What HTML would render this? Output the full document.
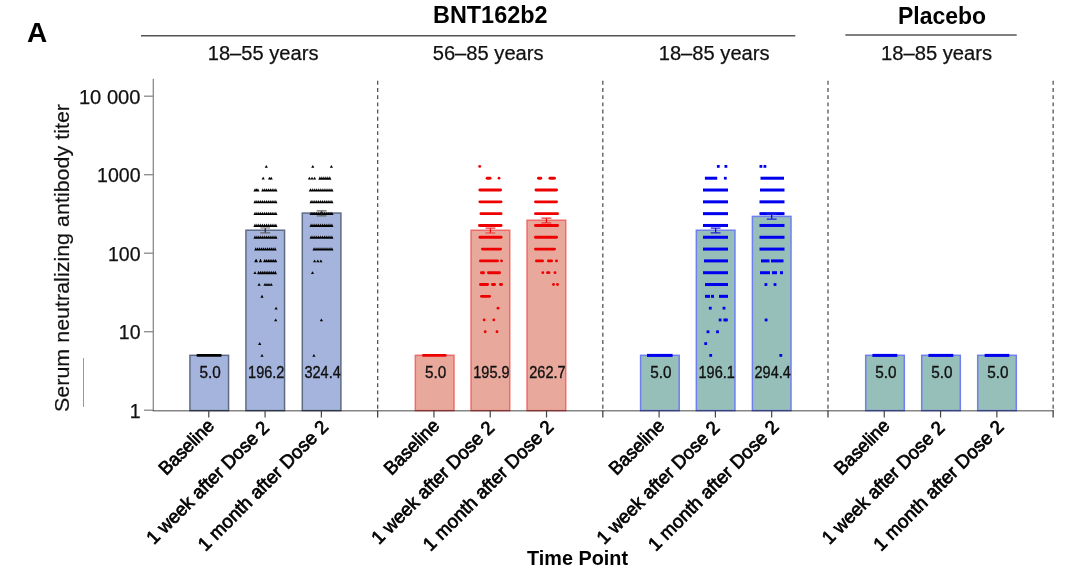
<!DOCTYPE html><html><head><meta charset="utf-8"><style>html,body{margin:0;padding:0;background:#fff;}svg{display:block;}text{font-family:"Liberation Sans",Arial,sans-serif;}</style></head><body>
<svg width="1080" height="572" viewBox="0 0 1080 572">
<rect width="1080" height="572" fill="#fff"/>
<text x="27" y="42" font-size="28" font-weight="bold" fill="#000">A</text>
<text x="433" y="23.3" font-size="23.5" font-weight="bold" fill="#000" textLength="114.5" lengthAdjust="spacingAndGlyphs">BNT162b2</text>
<text x="898" y="24.4" font-size="23.5" font-weight="bold" fill="#000" textLength="88" lengthAdjust="spacingAndGlyphs">Placebo</text>
<line x1="141" y1="35.7" x2="795.3" y2="35.7" stroke="#555" stroke-width="1.5"/>
<line x1="845.3" y1="35" x2="1016.7" y2="35" stroke="#555" stroke-width="1.5"/>
<text x="207.75" y="60" font-size="20" fill="#111" stroke="#111" stroke-width="0.25" textLength="110.7" lengthAdjust="spacingAndGlyphs">18–55 years</text>
<text x="432.70" y="60" font-size="20" fill="#111" stroke="#111" stroke-width="0.25" textLength="110.9" lengthAdjust="spacingAndGlyphs">56–85 years</text>
<text x="658.70" y="60" font-size="20" fill="#111" stroke="#111" stroke-width="0.25" textLength="110.9" lengthAdjust="spacingAndGlyphs">18–85 years</text>
<text x="881.00" y="60" font-size="20" fill="#111" stroke="#111" stroke-width="0.25" textLength="111.1" lengthAdjust="spacingAndGlyphs">18–85 years</text>
<line x1="153.3" y1="78.8" x2="153.3" y2="410.8" stroke="#8a8a8a" stroke-width="1.3"/>
<line x1="144" y1="96.20" x2="153.3" y2="96.20" stroke="#8a8a8a" stroke-width="1.3"/>
<text x="140.5" y="103.90" font-size="19.5" fill="#111" stroke="#111" stroke-width="0.25" text-anchor="end" textLength="61.6" lengthAdjust="spacingAndGlyphs">10 000</text>
<line x1="144" y1="174.70" x2="153.3" y2="174.70" stroke="#8a8a8a" stroke-width="1.3"/>
<text x="140.5" y="182.40" font-size="19.5" fill="#111" stroke="#111" stroke-width="0.25" text-anchor="end">1000</text>
<line x1="144" y1="253.20" x2="153.3" y2="253.20" stroke="#8a8a8a" stroke-width="1.3"/>
<text x="140.5" y="260.90" font-size="19.5" fill="#111" stroke="#111" stroke-width="0.25" text-anchor="end">100</text>
<line x1="144" y1="331.70" x2="153.3" y2="331.70" stroke="#8a8a8a" stroke-width="1.3"/>
<text x="140.5" y="339.40" font-size="19.5" fill="#111" stroke="#111" stroke-width="0.25" text-anchor="end">10</text>
<line x1="144" y1="410.20" x2="153.3" y2="410.20" stroke="#8a8a8a" stroke-width="1.3"/>
<text x="140.5" y="417.90" font-size="19.5" fill="#111" stroke="#111" stroke-width="0.25" text-anchor="end">1</text>
<text transform="translate(68.5,258) rotate(-90)" font-size="20.5" fill="#111" stroke="#111" stroke-width="0.2" text-anchor="middle" textLength="308" lengthAdjust="spacingAndGlyphs">Serum neutralizing antibody titer</text>
<line x1="83.5" y1="358" x2="83.5" y2="407" stroke="#999" stroke-width="1"/>
<line x1="377.65999999999997" y1="80.8" x2="377.65999999999997" y2="410.2" stroke="#555" stroke-width="1.3" stroke-dasharray="3.9 3.3"/>
<line x1="602.8199999999999" y1="80.8" x2="602.8199999999999" y2="410.2" stroke="#555" stroke-width="1.3" stroke-dasharray="3.9 3.3"/>
<line x1="827.98" y1="80.8" x2="827.98" y2="410.2" stroke="#555" stroke-width="1.3" stroke-dasharray="3.9 3.3"/>
<line x1="1053.1399999999999" y1="80.8" x2="1053.1399999999999" y2="410.2" stroke="#555" stroke-width="1.3" stroke-dasharray="3.9 3.3"/>
<rect x="189.95" y="355.33" width="38.6" height="55.27" fill="#a5b4dc" stroke="#5d6a88" stroke-width="1.5"/>
<rect x="196.50" y="354.10" width="25.20" height="2.6" rx="1" fill="#000"/>
<text x="210.25" y="378.2" font-size="16.2" fill="#111" stroke="#111" stroke-width="0.35" text-anchor="middle" textLength="21.3" lengthAdjust="spacingAndGlyphs">5.0</text>
<rect x="245.95" y="230.22" width="38.6" height="180.38" fill="#a5b4dc" stroke="#5d6a88" stroke-width="1.5"/>
<path d="M264.70 167.70h3.2l-1.6-2.8z" fill="#000"/>
<path d="M261.60 179.51h3.2l-1.6-2.8z" fill="#000"/>
<path d="M267.90 179.51h3.2l-1.6-2.8z" fill="#000"/>
<path d="M269.60 179.51h3.2l-1.6-2.8z" fill="#000"/>
<path d="M253.40 191.47h3.2l-1.6-3.3zM254.85 191.47h3.2l-1.6-3.3zM256.30 191.47h3.2l-1.6-3.3z" fill="#000"/>
<path d="M261.20 191.47h3.2l-1.6-3.3zM263.07 191.47h3.2l-1.6-3.3zM264.94 191.47h3.2l-1.6-3.3zM266.81 191.47h3.2l-1.6-3.3zM268.69 191.47h3.2l-1.6-3.3zM270.56 191.47h3.2l-1.6-3.3zM272.43 191.47h3.2l-1.6-3.3zM274.30 191.47h3.2l-1.6-3.3z" fill="#000"/>
<path d="M253.40 203.29h3.2l-1.6-3.3zM255.30 203.29h3.2l-1.6-3.3zM257.20 203.29h3.2l-1.6-3.3zM259.10 203.29h3.2l-1.6-3.3zM261.00 203.29h3.2l-1.6-3.3zM262.90 203.29h3.2l-1.6-3.3zM264.80 203.29h3.2l-1.6-3.3zM266.70 203.29h3.2l-1.6-3.3zM268.60 203.29h3.2l-1.6-3.3zM270.50 203.29h3.2l-1.6-3.3zM272.40 203.29h3.2l-1.6-3.3zM274.30 203.29h3.2l-1.6-3.3z" fill="#000"/>
<path d="M253.40 215.10h3.2l-1.6-3.3zM255.30 215.10h3.2l-1.6-3.3zM257.20 215.10h3.2l-1.6-3.3zM259.10 215.10h3.2l-1.6-3.3zM261.00 215.10h3.2l-1.6-3.3zM262.90 215.10h3.2l-1.6-3.3zM264.80 215.10h3.2l-1.6-3.3zM266.70 215.10h3.2l-1.6-3.3zM268.60 215.10h3.2l-1.6-3.3zM270.50 215.10h3.2l-1.6-3.3zM272.40 215.10h3.2l-1.6-3.3zM274.30 215.10h3.2l-1.6-3.3z" fill="#000"/>
<path d="M253.40 226.91h3.2l-1.6-3.3zM255.30 226.91h3.2l-1.6-3.3zM257.20 226.91h3.2l-1.6-3.3zM259.10 226.91h3.2l-1.6-3.3zM261.00 226.91h3.2l-1.6-3.3zM262.90 226.91h3.2l-1.6-3.3zM264.80 226.91h3.2l-1.6-3.3zM266.70 226.91h3.2l-1.6-3.3zM268.60 226.91h3.2l-1.6-3.3zM270.50 226.91h3.2l-1.6-3.3zM272.40 226.91h3.2l-1.6-3.3zM274.30 226.91h3.2l-1.6-3.3z" fill="#000"/>
<path d="M253.40 238.72h3.2l-1.6-3.3zM255.30 238.72h3.2l-1.6-3.3zM257.20 238.72h3.2l-1.6-3.3zM259.10 238.72h3.2l-1.6-3.3zM261.00 238.72h3.2l-1.6-3.3zM262.90 238.72h3.2l-1.6-3.3zM264.80 238.72h3.2l-1.6-3.3zM266.70 238.72h3.2l-1.6-3.3zM268.60 238.72h3.2l-1.6-3.3zM270.50 238.72h3.2l-1.6-3.3zM272.40 238.72h3.2l-1.6-3.3zM274.30 238.72h3.2l-1.6-3.3z" fill="#000"/>
<path d="M254.20 250.54h3.2l-1.6-3.3zM256.13 250.54h3.2l-1.6-3.3zM258.06 250.54h3.2l-1.6-3.3zM259.99 250.54h3.2l-1.6-3.3zM261.92 250.54h3.2l-1.6-3.3zM263.85 250.54h3.2l-1.6-3.3zM265.78 250.54h3.2l-1.6-3.3zM267.71 250.54h3.2l-1.6-3.3zM269.64 250.54h3.2l-1.6-3.3zM271.57 250.54h3.2l-1.6-3.3zM273.50 250.54h3.2l-1.6-3.3z" fill="#000"/>
<path d="M254.20 262.35h3.2l-1.6-3.3zM254.80 262.35h3.2l-1.6-3.3z" fill="#000"/>
<path d="M259.00 262.35h3.2l-1.6-3.3zM258.80 262.35h3.2l-1.6-3.3z" fill="#000"/>
<path d="M263.00 262.35h3.2l-1.6-3.3zM264.83 262.35h3.2l-1.6-3.3zM266.67 262.35h3.2l-1.6-3.3zM268.50 262.35h3.2l-1.6-3.3zM270.33 262.35h3.2l-1.6-3.3zM272.17 262.35h3.2l-1.6-3.3zM274.00 262.35h3.2l-1.6-3.3z" fill="#000"/>
<path d="M253.40 274.01h3.2l-1.6-2.8z" fill="#000"/>
<path d="M257.00 274.16h3.2l-1.6-3.3zM258.87 274.16h3.2l-1.6-3.3zM260.73 274.16h3.2l-1.6-3.3zM262.60 274.16h3.2l-1.6-3.3zM264.47 274.16h3.2l-1.6-3.3zM266.33 274.16h3.2l-1.6-3.3zM268.20 274.16h3.2l-1.6-3.3zM270.07 274.16h3.2l-1.6-3.3zM271.93 274.16h3.2l-1.6-3.3zM273.80 274.16h3.2l-1.6-3.3z" fill="#000"/>
<path d="M257.50 285.82h3.2l-1.6-2.8z" fill="#000"/>
<path d="M263.40 285.82h3.2l-1.6-2.8z" fill="#000"/>
<path d="M265.40 285.82h3.2l-1.6-2.8z" fill="#000"/>
<path d="M267.40 285.82h3.2l-1.6-2.8z" fill="#000"/>
<path d="M269.60 285.82h3.2l-1.6-2.8z" fill="#000"/>
<path d="M260.40 297.64h3.2l-1.6-2.8z" fill="#000"/>
<path d="M274.50 309.45h3.2l-1.6-2.8z" fill="#000"/>
<path d="M274.10 321.26h3.2l-1.6-2.8z" fill="#000"/>
<path d="M258.10 344.89h3.2l-1.6-2.8z" fill="#000"/>
<path d="M260.40 356.70h3.2l-1.6-2.8z" fill="#000"/>
<path d="M265.25 228.02V232.92" stroke="#222" stroke-width="1.2" fill="none"/>
<path d="M260.35 228.02h9.8M260.35 232.92h9.8" stroke="#666" stroke-width="1.2" fill="none"/>
<text x="266.25" y="378.2" font-size="16.2" fill="#111" stroke="#111" stroke-width="0.35" text-anchor="middle" textLength="36.3" lengthAdjust="spacingAndGlyphs">196.2</text>
<rect x="302.30" y="213.08" width="38.6" height="197.52" fill="#a5b4dc" stroke="#5d6a88" stroke-width="1.5"/>
<path d="M311.20 167.70h3.2l-1.6-2.8z" fill="#000"/>
<path d="M329.80 167.70h3.2l-1.6-2.8z" fill="#000"/>
<path d="M307.80 179.51h3.2l-1.6-2.8z" fill="#000"/>
<path d="M310.40 179.51h3.2l-1.6-2.8z" fill="#000"/>
<path d="M313.00 179.51h3.2l-1.6-2.8z" fill="#000"/>
<path d="M318.30 179.66h3.2l-1.6-3.3zM320.28 179.66h3.2l-1.6-3.3zM322.26 179.66h3.2l-1.6-3.3zM324.24 179.66h3.2l-1.6-3.3zM326.22 179.66h3.2l-1.6-3.3zM328.20 179.66h3.2l-1.6-3.3z" fill="#000"/>
<path d="M308.80 191.47h3.2l-1.6-3.3zM310.75 191.47h3.2l-1.6-3.3zM312.71 191.47h3.2l-1.6-3.3zM314.66 191.47h3.2l-1.6-3.3zM316.62 191.47h3.2l-1.6-3.3zM318.57 191.47h3.2l-1.6-3.3zM320.53 191.47h3.2l-1.6-3.3zM322.48 191.47h3.2l-1.6-3.3zM324.44 191.47h3.2l-1.6-3.3zM326.39 191.47h3.2l-1.6-3.3zM328.35 191.47h3.2l-1.6-3.3zM330.30 191.47h3.2l-1.6-3.3z" fill="#000"/>
<path d="M309.50 203.29h3.2l-1.6-3.3zM311.39 203.29h3.2l-1.6-3.3zM313.28 203.29h3.2l-1.6-3.3zM315.17 203.29h3.2l-1.6-3.3zM317.06 203.29h3.2l-1.6-3.3zM318.95 203.29h3.2l-1.6-3.3zM320.85 203.29h3.2l-1.6-3.3zM322.74 203.29h3.2l-1.6-3.3zM324.63 203.29h3.2l-1.6-3.3zM326.52 203.29h3.2l-1.6-3.3zM328.41 203.29h3.2l-1.6-3.3zM330.30 203.29h3.2l-1.6-3.3z" fill="#000"/>
<path d="M309.50 215.10h3.2l-1.6-3.3zM311.39 215.10h3.2l-1.6-3.3zM313.28 215.10h3.2l-1.6-3.3zM315.17 215.10h3.2l-1.6-3.3zM317.06 215.10h3.2l-1.6-3.3zM318.95 215.10h3.2l-1.6-3.3zM320.85 215.10h3.2l-1.6-3.3zM322.74 215.10h3.2l-1.6-3.3zM324.63 215.10h3.2l-1.6-3.3zM326.52 215.10h3.2l-1.6-3.3zM328.41 215.10h3.2l-1.6-3.3zM330.30 215.10h3.2l-1.6-3.3z" fill="#000"/>
<path d="M309.50 226.91h3.2l-1.6-3.3zM311.39 226.91h3.2l-1.6-3.3zM313.28 226.91h3.2l-1.6-3.3zM315.17 226.91h3.2l-1.6-3.3zM317.06 226.91h3.2l-1.6-3.3zM318.95 226.91h3.2l-1.6-3.3zM320.85 226.91h3.2l-1.6-3.3zM322.74 226.91h3.2l-1.6-3.3zM324.63 226.91h3.2l-1.6-3.3zM326.52 226.91h3.2l-1.6-3.3zM328.41 226.91h3.2l-1.6-3.3zM330.30 226.91h3.2l-1.6-3.3z" fill="#000"/>
<path d="M309.50 238.72h3.2l-1.6-3.3zM311.39 238.72h3.2l-1.6-3.3zM313.28 238.72h3.2l-1.6-3.3zM315.17 238.72h3.2l-1.6-3.3zM317.06 238.72h3.2l-1.6-3.3zM318.95 238.72h3.2l-1.6-3.3zM320.85 238.72h3.2l-1.6-3.3zM322.74 238.72h3.2l-1.6-3.3zM324.63 238.72h3.2l-1.6-3.3zM326.52 238.72h3.2l-1.6-3.3zM328.41 238.72h3.2l-1.6-3.3zM330.30 238.72h3.2l-1.6-3.3z" fill="#000"/>
<path d="M312.50 250.54h3.2l-1.6-3.3zM314.48 250.54h3.2l-1.6-3.3zM316.46 250.54h3.2l-1.6-3.3zM318.43 250.54h3.2l-1.6-3.3zM320.41 250.54h3.2l-1.6-3.3zM322.39 250.54h3.2l-1.6-3.3zM324.37 250.54h3.2l-1.6-3.3zM326.34 250.54h3.2l-1.6-3.3zM328.32 250.54h3.2l-1.6-3.3zM330.30 250.54h3.2l-1.6-3.3z" fill="#000"/>
<path d="M313.00 262.20h3.2l-1.6-2.8z" fill="#000"/>
<path d="M316.20 262.20h3.2l-1.6-2.8z" fill="#000"/>
<path d="M319.30 262.20h3.2l-1.6-2.8z" fill="#000"/>
<path d="M310.90 274.01h3.2l-1.6-2.8z" fill="#000"/>
<path d="M319.80 321.26h3.2l-1.6-2.8z" fill="#000"/>
<path d="M312.30 356.70h3.2l-1.6-2.8z" fill="#000"/>
<path d="M321.60 210.88V215.78" stroke="#222" stroke-width="1.2" fill="none"/>
<path d="M316.70 210.88h9.8M316.70 215.78h9.8" stroke="#666" stroke-width="1.2" fill="none"/>
<text x="322.60" y="378.2" font-size="16.2" fill="#111" stroke="#111" stroke-width="0.35" text-anchor="middle" textLength="36.3" lengthAdjust="spacingAndGlyphs">324.4</text>
<rect x="415.35" y="355.33" width="38.6" height="55.27" fill="#e9a89c" stroke="#ef6a6a" stroke-width="1.5"/>
<rect x="422.00" y="353.95" width="24.70" height="2.9" rx="1.45" fill="#ee0000"/>
<text x="435.65" y="378.2" font-size="16.2" fill="#111" stroke="#111" stroke-width="0.35" text-anchor="middle" textLength="21.3" lengthAdjust="spacingAndGlyphs">5.0</text>
<rect x="471.10" y="230.28" width="38.6" height="180.32" fill="#e9a89c" stroke="#ef6a6a" stroke-width="1.5"/>
<circle cx="479.70" cy="166.40" r="1.4" fill="#ee0000"/>
<rect x="485.70" y="176.76" width="5.80" height="2.9" rx="1.45" fill="#ee0000"/>
<circle cx="499.00" cy="178.21" r="1.4" fill="#ee0000"/>
<rect x="478.40" y="188.57" width="23.60" height="2.9" rx="1.45" fill="#ee0000"/>
<rect x="478.40" y="200.39" width="24.10" height="2.9" rx="1.45" fill="#ee0000"/>
<rect x="479.50" y="212.20" width="23.00" height="2.9" rx="1.45" fill="#ee0000"/>
<rect x="478.00" y="224.01" width="24.50" height="2.9" rx="1.45" fill="#ee0000"/>
<rect x="478.50" y="235.82" width="24.00" height="2.9" rx="1.45" fill="#ee0000"/>
<rect x="481.00" y="247.64" width="21.00" height="2.9" rx="1.45" fill="#ee0000"/>
<rect x="479.00" y="259.45" width="20.00" height="2.9" rx="1.45" fill="#ee0000"/>
<circle cx="501.50" cy="260.90" r="1.4" fill="#ee0000"/>
<rect x="480.00" y="271.26" width="5.00" height="2.9" rx="1.45" fill="#ee0000"/>
<rect x="487.00" y="271.26" width="14.00" height="2.9" rx="1.45" fill="#ee0000"/>
<rect x="479.00" y="283.07" width="10.00" height="2.9" rx="1.45" fill="#ee0000"/>
<rect x="491.00" y="283.07" width="5.00" height="2.9" rx="1.45" fill="#ee0000"/>
<rect x="499.00" y="283.07" width="4.00" height="2.9" rx="1.45" fill="#ee0000"/>
<rect x="480.00" y="294.89" width="11.00" height="2.9" rx="1.45" fill="#ee0000"/>
<circle cx="498.00" cy="308.15" r="1.4" fill="#ee0000"/>
<circle cx="484.10" cy="319.96" r="1.4" fill="#ee0000"/>
<circle cx="493.80" cy="319.96" r="1.4" fill="#ee0000"/>
<circle cx="485.20" cy="331.77" r="1.4" fill="#ee0000"/>
<circle cx="497.00" cy="331.77" r="1.4" fill="#ee0000"/>
<path d="M490.40 228.08V232.98" stroke="#e00" stroke-width="1.2" fill="none"/>
<path d="M485.50 228.08h9.8M485.50 232.98h9.8" stroke="#e33" stroke-width="1.2" fill="none"/>
<text x="491.40" y="378.2" font-size="16.2" fill="#111" stroke="#111" stroke-width="0.35" text-anchor="middle" textLength="36.3" lengthAdjust="spacingAndGlyphs">195.9</text>
<rect x="527.10" y="220.27" width="38.6" height="190.33" fill="#e9a89c" stroke="#ef6a6a" stroke-width="1.5"/>
<rect x="537.00" y="176.76" width="5.20" height="2.9" rx="1.45" fill="#ee0000"/>
<rect x="548.50" y="176.76" width="7.40" height="2.9" rx="1.45" fill="#ee0000"/>
<rect x="534.50" y="188.57" width="23.50" height="2.9" rx="1.45" fill="#ee0000"/>
<rect x="534.00" y="200.39" width="24.00" height="2.9" rx="1.45" fill="#ee0000"/>
<rect x="534.00" y="212.20" width="25.00" height="2.9" rx="1.45" fill="#ee0000"/>
<rect x="534.00" y="224.01" width="25.00" height="2.9" rx="1.45" fill="#ee0000"/>
<rect x="534.00" y="235.82" width="24.00" height="2.9" rx="1.45" fill="#ee0000"/>
<rect x="534.00" y="247.64" width="22.00" height="2.9" rx="1.45" fill="#ee0000"/>
<rect x="535.00" y="259.45" width="9.00" height="2.9" rx="1.45" fill="#ee0000"/>
<rect x="547.00" y="259.45" width="6.00" height="2.9" rx="1.45" fill="#ee0000"/>
<rect x="555.00" y="259.45" width="3.00" height="2.9" rx="1.45" fill="#ee0000"/>
<circle cx="542.80" cy="272.71" r="1.4" fill="#ee0000"/>
<circle cx="547.50" cy="272.71" r="1.4" fill="#ee0000"/>
<circle cx="549.00" cy="272.71" r="1.4" fill="#ee0000"/>
<circle cx="555.00" cy="272.71" r="1.4" fill="#ee0000"/>
<circle cx="553.50" cy="284.52" r="1.4" fill="#ee0000"/>
<circle cx="557.50" cy="284.52" r="1.4" fill="#ee0000"/>
<path d="M546.40 218.07V222.97" stroke="#e00" stroke-width="1.2" fill="none"/>
<path d="M541.50 218.07h9.8M541.50 222.97h9.8" stroke="#e33" stroke-width="1.2" fill="none"/>
<text x="547.40" y="378.2" font-size="16.2" fill="#111" stroke="#111" stroke-width="0.35" text-anchor="middle" textLength="36.3" lengthAdjust="spacingAndGlyphs">262.7</text>
<rect x="640.60" y="355.33" width="38.6" height="55.27" fill="#96bfb9" stroke="#6f7ff0" stroke-width="1.5"/>
<rect x="647.00" y="353.90" width="25.60" height="3.0" fill="#00e"/>
<text x="660.90" y="378.2" font-size="16.2" fill="#111" stroke="#111" stroke-width="0.35" text-anchor="middle" textLength="21.3" lengthAdjust="spacingAndGlyphs">5.0</text>
<rect x="696.35" y="230.24" width="38.6" height="180.36" fill="#96bfb9" stroke="#6f7ff0" stroke-width="1.5"/>
<rect x="716.90" y="165.00" width="2.8" height="2.8" fill="#00e"/>
<rect x="724.50" y="165.00" width="2.8" height="2.8" fill="#00e"/>
<rect x="704.90" y="176.71" width="12.30" height="3.0" fill="#00e"/>
<rect x="723.90" y="176.81" width="2.8" height="2.8" fill="#00e"/>
<rect x="703.00" y="188.52" width="25.00" height="3.0" fill="#00e"/>
<rect x="703.00" y="200.34" width="25.00" height="3.0" fill="#00e"/>
<rect x="703.00" y="212.15" width="25.00" height="3.0" fill="#00e"/>
<rect x="703.00" y="223.96" width="25.00" height="3.0" fill="#00e"/>
<rect x="703.00" y="235.77" width="25.00" height="3.0" fill="#00e"/>
<rect x="703.00" y="247.59" width="25.00" height="3.0" fill="#00e"/>
<rect x="704.00" y="259.40" width="24.00" height="3.0" fill="#00e"/>
<rect x="703.00" y="271.21" width="25.00" height="3.0" fill="#00e"/>
<rect x="705.00" y="283.02" width="23.00" height="3.0" fill="#00e"/>
<rect x="705.00" y="294.84" width="5.00" height="3.0" fill="#00e"/>
<rect x="711.00" y="294.84" width="3.00" height="3.0" fill="#00e"/>
<rect x="719.00" y="294.84" width="9.00" height="3.0" fill="#00e"/>
<rect x="708.90" y="306.75" width="2.8" height="2.8" fill="#00e"/>
<rect x="722.60" y="306.75" width="2.8" height="2.8" fill="#00e"/>
<rect x="718.70" y="318.56" width="2.8" height="2.8" fill="#00e"/>
<rect x="723.40" y="318.56" width="2.8" height="2.8" fill="#00e"/>
<rect x="725.00" y="318.56" width="2.8" height="2.8" fill="#00e"/>
<rect x="706.60" y="330.38" width="2.8" height="2.8" fill="#00e"/>
<rect x="716.10" y="330.38" width="2.8" height="2.8" fill="#00e"/>
<rect x="704.30" y="342.19" width="2.8" height="2.8" fill="#00e"/>
<rect x="709.30" y="354.00" width="2.8" height="2.8" fill="#00e"/>
<path d="M715.65 228.04V232.94" stroke="#00c" stroke-width="1.2" fill="none"/>
<path d="M710.75 228.04h9.8M710.75 232.94h9.8" stroke="#22d" stroke-width="1.2" fill="none"/>
<text x="716.65" y="378.2" font-size="16.2" fill="#111" stroke="#111" stroke-width="0.35" text-anchor="middle" textLength="36.3" lengthAdjust="spacingAndGlyphs">196.1</text>
<rect x="752.40" y="216.39" width="38.6" height="194.21" fill="#96bfb9" stroke="#6f7ff0" stroke-width="1.5"/>
<rect x="759.50" y="165.00" width="2.8" height="2.8" fill="#00e"/>
<rect x="763.50" y="165.00" width="2.8" height="2.8" fill="#00e"/>
<rect x="760.50" y="176.71" width="23.50" height="3.0" fill="#00e"/>
<rect x="760.00" y="188.52" width="24.50" height="3.0" fill="#00e"/>
<rect x="759.50" y="200.34" width="25.00" height="3.0" fill="#00e"/>
<rect x="759.50" y="212.15" width="25.00" height="3.0" fill="#00e"/>
<rect x="759.50" y="223.96" width="25.00" height="3.0" fill="#00e"/>
<rect x="759.50" y="235.77" width="25.00" height="3.0" fill="#00e"/>
<rect x="759.50" y="247.59" width="25.00" height="3.0" fill="#00e"/>
<rect x="761.00" y="259.40" width="8.50" height="3.0" fill="#00e"/>
<rect x="771.00" y="259.40" width="12.50" height="3.0" fill="#00e"/>
<rect x="760.00" y="271.21" width="10.00" height="3.0" fill="#00e"/>
<rect x="772.00" y="271.21" width="5.00" height="3.0" fill="#00e"/>
<rect x="780.00" y="271.21" width="3.00" height="3.0" fill="#00e"/>
<rect x="764.50" y="283.12" width="2.8" height="2.8" fill="#00e"/>
<rect x="773.60" y="283.12" width="2.8" height="2.8" fill="#00e"/>
<rect x="764.70" y="318.56" width="2.8" height="2.8" fill="#00e"/>
<rect x="779.40" y="354.00" width="2.8" height="2.8" fill="#00e"/>
<path d="M771.70 214.19V219.09" stroke="#00c" stroke-width="1.2" fill="none"/>
<path d="M766.80 214.19h9.8M766.80 219.09h9.8" stroke="#22d" stroke-width="1.2" fill="none"/>
<text x="772.70" y="378.2" font-size="16.2" fill="#111" stroke="#111" stroke-width="0.35" text-anchor="middle" textLength="36.3" lengthAdjust="spacingAndGlyphs">294.4</text>
<rect x="865.70" y="355.33" width="38.6" height="55.27" fill="#96bfb9" stroke="#6f7ff0" stroke-width="1.5"/>
<rect x="872.40" y="353.90" width="24.90" height="3.0" fill="#00e"/>
<text x="886.00" y="378.2" font-size="16.2" fill="#111" stroke="#111" stroke-width="0.35" text-anchor="middle" textLength="21.3" lengthAdjust="spacingAndGlyphs">5.0</text>
<rect x="921.70" y="355.33" width="38.6" height="55.27" fill="#96bfb9" stroke="#6f7ff0" stroke-width="1.5"/>
<rect x="928.40" y="353.90" width="24.90" height="3.0" fill="#00e"/>
<text x="942.00" y="378.2" font-size="16.2" fill="#111" stroke="#111" stroke-width="0.35" text-anchor="middle" textLength="21.3" lengthAdjust="spacingAndGlyphs">5.0</text>
<rect x="977.70" y="355.33" width="38.6" height="55.27" fill="#96bfb9" stroke="#6f7ff0" stroke-width="1.5"/>
<rect x="984.60" y="353.90" width="24.70" height="3.0" fill="#00e"/>
<text x="998.00" y="378.2" font-size="16.2" fill="#111" stroke="#111" stroke-width="0.35" text-anchor="middle" textLength="21.3" lengthAdjust="spacingAndGlyphs">5.0</text>
<line x1="152.70000000000002" y1="410.8" x2="1053.7399999999998" y2="410.8" stroke="#858585" stroke-width="1.6" style="mix-blend-mode:multiply"/>
<line x1="208.79" y1="410.2" x2="208.79" y2="417.5" stroke="#444" stroke-width="1.2"/>
<line x1="265.08" y1="410.2" x2="265.08" y2="417.5" stroke="#444" stroke-width="1.2"/>
<line x1="321.37" y1="410.2" x2="321.37" y2="417.5" stroke="#444" stroke-width="1.2"/>
<line x1="377.66" y1="410.2" x2="377.66" y2="417.5" stroke="#444" stroke-width="1.3"/>
<line x1="433.95" y1="410.2" x2="433.95" y2="417.5" stroke="#444" stroke-width="1.2"/>
<line x1="490.24" y1="410.2" x2="490.24" y2="417.5" stroke="#444" stroke-width="1.2"/>
<line x1="546.53" y1="410.2" x2="546.53" y2="417.5" stroke="#444" stroke-width="1.2"/>
<line x1="602.82" y1="410.2" x2="602.82" y2="417.5" stroke="#444" stroke-width="1.3"/>
<line x1="659.11" y1="410.2" x2="659.11" y2="417.5" stroke="#444" stroke-width="1.2"/>
<line x1="715.40" y1="410.2" x2="715.40" y2="417.5" stroke="#444" stroke-width="1.2"/>
<line x1="771.69" y1="410.2" x2="771.69" y2="417.5" stroke="#444" stroke-width="1.2"/>
<line x1="827.98" y1="410.2" x2="827.98" y2="417.5" stroke="#444" stroke-width="1.3"/>
<line x1="884.27" y1="410.2" x2="884.27" y2="417.5" stroke="#444" stroke-width="1.2"/>
<line x1="940.56" y1="410.2" x2="940.56" y2="417.5" stroke="#444" stroke-width="1.2"/>
<line x1="996.85" y1="410.2" x2="996.85" y2="417.5" stroke="#444" stroke-width="1.2"/>
<line x1="1053.14" y1="410.2" x2="1053.14" y2="417.5" stroke="#444" stroke-width="1.3"/>
<text transform="translate(215.39,426.90) rotate(-45)" font-size="18.8" fill="#000" text-anchor="end" stroke="#000" stroke-width="0.7" textLength="69.5" lengthAdjust="spacingAndGlyphs">Baseline</text>
<text transform="translate(270.38,428.90) rotate(-45)" font-size="18.8" fill="#000" text-anchor="end" stroke="#000" stroke-width="0.7" textLength="164.7" lengthAdjust="spacingAndGlyphs">1 week after Dose 2</text>
<text transform="translate(329.47,428.00) rotate(-45)" font-size="18.8" fill="#000" text-anchor="end" stroke="#000" stroke-width="0.7" textLength="175.4" lengthAdjust="spacingAndGlyphs">1 month after Dose 2</text>
<text transform="translate(440.55,426.90) rotate(-45)" font-size="18.8" fill="#000" text-anchor="end" stroke="#000" stroke-width="0.7" textLength="69.5" lengthAdjust="spacingAndGlyphs">Baseline</text>
<text transform="translate(495.54,428.90) rotate(-45)" font-size="18.8" fill="#000" text-anchor="end" stroke="#000" stroke-width="0.7" textLength="164.7" lengthAdjust="spacingAndGlyphs">1 week after Dose 2</text>
<text transform="translate(554.63,428.00) rotate(-45)" font-size="18.8" fill="#000" text-anchor="end" stroke="#000" stroke-width="0.7" textLength="175.4" lengthAdjust="spacingAndGlyphs">1 month after Dose 2</text>
<text transform="translate(665.71,426.90) rotate(-45)" font-size="18.8" fill="#000" text-anchor="end" stroke="#000" stroke-width="0.7" textLength="69.5" lengthAdjust="spacingAndGlyphs">Baseline</text>
<text transform="translate(720.70,428.90) rotate(-45)" font-size="18.8" fill="#000" text-anchor="end" stroke="#000" stroke-width="0.7" textLength="164.7" lengthAdjust="spacingAndGlyphs">1 week after Dose 2</text>
<text transform="translate(779.79,428.00) rotate(-45)" font-size="18.8" fill="#000" text-anchor="end" stroke="#000" stroke-width="0.7" textLength="175.4" lengthAdjust="spacingAndGlyphs">1 month after Dose 2</text>
<text transform="translate(890.87,426.90) rotate(-45)" font-size="18.8" fill="#000" text-anchor="end" stroke="#000" stroke-width="0.7" textLength="69.5" lengthAdjust="spacingAndGlyphs">Baseline</text>
<text transform="translate(945.86,428.90) rotate(-45)" font-size="18.8" fill="#000" text-anchor="end" stroke="#000" stroke-width="0.7" textLength="164.7" lengthAdjust="spacingAndGlyphs">1 week after Dose 2</text>
<text transform="translate(1004.95,428.00) rotate(-45)" font-size="18.8" fill="#000" text-anchor="end" stroke="#000" stroke-width="0.7" textLength="175.4" lengthAdjust="spacingAndGlyphs">1 month after Dose 2</text>
<text x="527" y="565.4" font-size="19.5" font-weight="bold" fill="#000" textLength="101" lengthAdjust="spacingAndGlyphs">Time Point</text>
</svg></body></html>
